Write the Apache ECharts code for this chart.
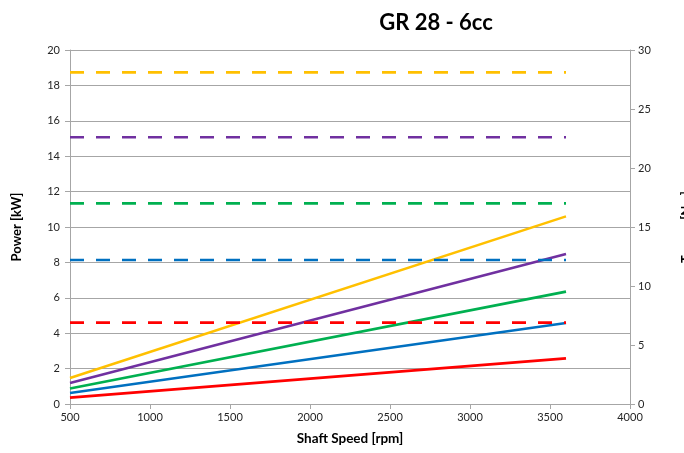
<!DOCTYPE html>
<html>
<head>
<meta charset="utf-8">
<script src="https://cdn.jsdelivr.net/npm/echarts@6/dist/echarts.min.js"></script>
<style>
  html, body { margin: 0; padding: 0; background: #fff; }
  #chart { width: 684px; height: 453px; }
</style>
</head>
<body>
<div id="chart"></div>
<script>
// Operating speed range of each curve [rpm]
const speedRange = [500, 3600];

// Displacement settings, lowest to highest
const curveColors = ['#FF0000', '#0070C0', '#00B050', '#7030A0', '#FFC000'];

// Power at the start and end of the speed range [kW]
const powerAtStart = [0.36, 0.62, 0.88, 1.18, 1.47];
const powerAtEnd = [2.58, 4.58, 6.35, 8.48, 10.6];

// Constant torque levels [Nm]
const torqueLevels = [6.9, 12.2, 17.0, 22.6, 28.1];

// Axis settings
const speedTicks = { min: 500, max: 4000, interval: 500 };
const powerTicks = { min: 0, max: 20, interval: 2 };
const torqueTicks = { min: 0, max: 30, interval: 5 };

const fontFamily = 'Lato, "Open Sans", sans-serif';
const textColor = '#262626';
const axisGray = '#A6A6A6';

const series = [];
curveColors.forEach((color, i) => {
  series.push({
    type: 'line',
    yAxisIndex: 0,
    showSymbol: false,
    silent: true,
    z: 2,
    lineStyle: { color: color, width: 2.6 },
    data: [[speedRange[0], powerAtStart[i]], [speedRange[1], powerAtEnd[i]]]
  });
});
curveColors.forEach((color, i) => {
  series.push({
    type: 'line',
    yAxisIndex: 1,
    showSymbol: false,
    silent: true,
    z: 3,
    lineStyle: { color: color, width: 2.6, type: [14, 12] },
    data: [[speedRange[0], torqueLevels[i]], [speedRange[1], torqueLevels[i]]]
  });
});

const plainNumber = v => String(v);

const chart = echarts.init(document.getElementById('chart'), null, { renderer: 'canvas' });
chart.setOption({
  animation: false,
  backgroundColor: '#fff',
  title: {
    text: 'GR 28 - 6cc',
    left: 431,
    top: 7,
    textAlign: 'center',
    textStyle: { fontFamily: fontFamily, fontSize: 22, fontWeight: 'bold', color: '#000' }
  },
  grid: { left: 70, right: 54, top: 50, bottom: 49, containLabel: false, outerBoundsMode: 'none' },
  xAxis: {
    type: 'value',
    min: speedTicks.min,
    max: speedTicks.max,
    interval: speedTicks.interval,
    name: 'Shaft Speed [rpm]',
    nameLocation: 'middle',
    nameGap: 28,
    nameTextStyle: { fontFamily: fontFamily, fontSize: 13.5, fontWeight: 'bold', color: '#000' },
    axisLine: { lineStyle: { color: axisGray, width: 1 } },
    axisTick: { show: true, length: 5, lineStyle: { color: axisGray } },
    axisLabel: { fontFamily: fontFamily, fontSize: 11, color: textColor, margin: 8, formatter: plainNumber },
    splitLine: { show: false }
  },
  yAxis: [
    {
      type: 'value',
      position: 'left',
      min: powerTicks.min,
      max: powerTicks.max,
      interval: powerTicks.interval,
      name: 'Power [kW]',
      nameLocation: 'middle',
      nameGap: 47,
      nameTextStyle: { fontFamily: fontFamily, fontSize: 13, fontWeight: 'bold', color: '#000' },
      axisLine: { show: true, lineStyle: { color: axisGray, width: 1 } },
      axisTick: { show: true, length: 5, lineStyle: { color: axisGray } },
      axisLabel: { fontFamily: fontFamily, fontSize: 11, color: textColor, margin: 10, formatter: plainNumber },
      splitLine: { show: true, lineStyle: { color: '#A6A6A6', width: 1 } }
    },
    {
      type: 'value',
      position: 'right',
      min: torqueTicks.min,
      max: torqueTicks.max,
      interval: torqueTicks.interval,
      name: 'Torque [Nm]',
      nameLocation: 'middle',
      nameGap: 50,
      nameRotate: 90,
      nameTextStyle: { fontFamily: fontFamily, fontSize: 13, fontWeight: 'bold', color: '#000' },
      axisLine: { show: true, lineStyle: { color: axisGray, width: 1 } },
      axisTick: { show: true, length: 5, lineStyle: { color: axisGray } },
      axisLabel: { fontFamily: fontFamily, fontSize: 11, color: textColor, margin: 8, formatter: plainNumber },
      splitLine: { show: false }
    }
  ],
  series: series
});
</script>
</body>
</html>
